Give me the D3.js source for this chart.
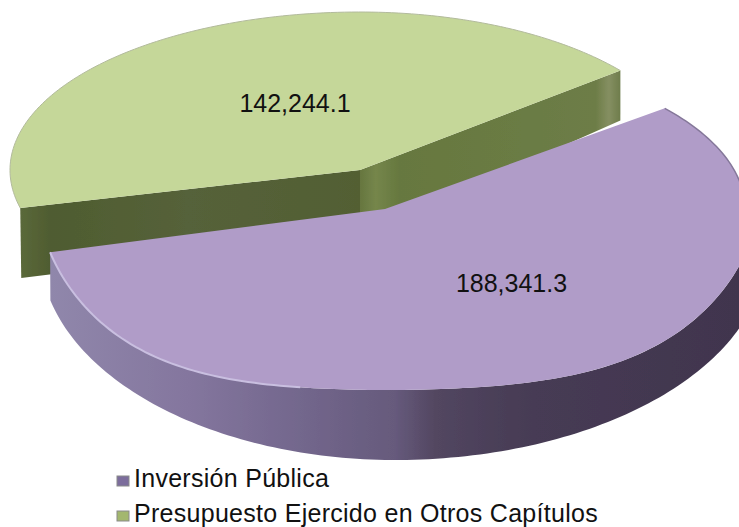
<!DOCTYPE html>
<html><head><meta charset="utf-8"><script src="https://cdn.jsdelivr.net/npm/d3@7"></script>
<style>html,body{margin:0;background:#fff}svg{display:block}text{font-family:"Liberation Sans",Arial,sans-serif;fill:#111}</style></head>
<body><svg id="c" width="739" height="527"></svg>
<script>
const categories=["Inversión Pública","Presupuesto Ejercido en Otros Capítulos"];
const values=[188341.3,142244.1];
const valueLabels=["188,341.3","142,244.1"];
const topColors=["#b09cc8","#c5d799"];
const svg=d3.select("#c"),defs=svg.append("defs");
const pie=d3.pie().sort(null).startAngle(51*Math.PI/180).endAngle(411*Math.PI/180);
const arcs=pie(values);
// perspective outlines of the two slices and of the purple slice's lower edge
const shapes=[
 {cx:385,cy:209,l:345,rt:360,rb:372,t:160,b:181,boxy:.75},
 {cx:360,cy:170,l:350,rt:335,rb:335,t:158,b:158,boxy:0,d:66},
 {cx:395,cy:250,l:355,rt:371,rb:371,t:210,b:210,boxy:0}
];
function proj(s,a){const x=Math.sin(a),y=-Math.cos(a);
 const fy=y<0?y:y+s.boxy*y*(1-y)*(y-.25);
 return [s.cx+x*(x<0?s.l:(y<0?s.rt:s.rb)), s.cy+fy*(y<0?s.t:s.b)];}
const line=d3.line();
function rim(s,a0,a1){const n=Math.max(2,Math.ceil((a1-a0)*50));
 return d3.range(n+1).map(i=>proj(s,a0+(a1-a0)*i/n));}
function grad(id,x1,x2,stops){const g=defs.append("linearGradient").attr("id",id).attr("gradientUnits","userSpaceOnUse")
 .attr("x1",x1).attr("x2",x2).attr("y1",0).attr("y2",0);
 stops.forEach(d=>g.append("stop").attr("offset",d[0]).attr("stop-color",d[1]));}
grad("pw",50,740,[[0,"#9087ab"],[.2,"#84769e"],[.35,"#74688e"],[.5,"#665a7c"],[.56,"#524660"],[.7,"#463b54"],[1,"#41354e"]]);
grad("gl",16,360,[[0,"#5c6b3c"],[.1,"#4f5c30"],[.5,"#55623a"],[1,"#525f33"]]);
grad("gr",360,622,[[0,"#66763f"],[.06,"#75864b"],[.15,"#66783f"],[.9,"#6d7d47"],[.95,"#858f62"],[1,"#6b7a48"]]);
defs.append("filter").attr("id","soft").append("feGaussianBlur").attr("stdDeviation",.7);
const g=svg.append("g").attr("filter","url(#soft)");

const sg=shapes[1],ag=arcs[1];
const gRim=rim(sg,ag.startAngle,ag.endAngle);
const gL=proj(sg,ag.startAngle),gR=proj(sg,ag.endAngle),c=[sg.cx,sg.cy];
g.append("path").attr("d",line([gL,c,[c[0],c[1]+sg.d],[gL[0]+1,gL[1]+70]])+"Z").attr("fill","url(#gl)");
g.append("path").attr("d",line([c,gR,[gR[0],gR[1]+50],[c[0],c[1]+sg.d]])+"Z").attr("fill","url(#gr)");
g.append("path").attr("d",line([c,...gRim])+"Z").attr("fill",topColors[1]);
g.append("path").attr("d",line(gRim)).attr("fill","none").attr("stroke","#b2ba9c").attr("stroke-width",1);

const sp=shapes[0],sb=shapes[2],ap=arcs[0];
const wallStart=Math.max(ap.startAngle,Math.PI/2);
const rimTop=rim(sp,wallStart,ap.endAngle),rimBot=rim(sb,wallStart,ap.endAngle).reverse();
g.append("path").attr("d",line([...rimTop,...rimBot])+"Z").attr("fill","url(#pw)");
g.append("path").attr("d",line([[sp.cx,sp.cy],...rim(sp,ap.startAngle,ap.endAngle)])+"Z").attr("fill",topColors[0]);
g.append("path").attr("d",line(rim(sp,ap.endAngle-1.08,ap.endAngle))).attr("fill","none").attr("stroke","#c9bfe0").attr("stroke-width",2);
g.append("path").attr("d",line(rim(sp,ap.startAngle,ap.startAngle+.6))).attr("fill","none").attr("stroke","#85789a").attr("stroke-width",1.5);

const labelPos=[[511.5,283],[295,103]];
svg.selectAll("text.v").data(valueLabels).join("text").attr("class","v")
 .attr("x",(d,i)=>labelPos[i][0]).attr("y",(d,i)=>labelPos[i][1]).attr("dy","0.35em")
 .attr("text-anchor","middle").attr("font-size",25).text(d=>d);

const ly=d3.scalePoint().domain(categories).range([478,513]);
const swatch=["#7b6d9c","#a3b76e"];
const lg=svg.selectAll("g.l").data(categories).join("g").attr("class","l").attr("transform",d=>`translate(117,${ly(d)})`);
lg.append("rect").attr("x",0).attr("y",-2).attr("width",12).attr("height",10).attr("fill",(d,i)=>swatch[i]).attr("stroke","#8a8a8a").attr("stroke-width",1).attr("filter","url(#soft)");
lg.append("text").attr("x",17).attr("dy","0.36em").attr("font-size",25).attr("letter-spacing",.28).text(d=>d);
</script></body></html>
